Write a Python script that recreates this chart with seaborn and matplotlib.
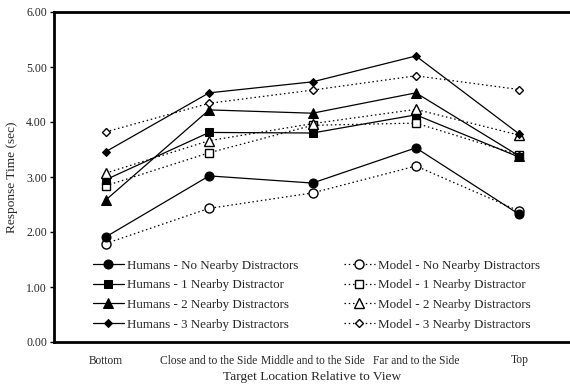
import matplotlib
matplotlib.use("Agg")
import matplotlib.pyplot as plt
import seaborn as sns
import numpy as np

categories = ["Bottom", "Close and to the Side", "Middle and to the Side",
              "Far and to the Side", "Top"]

humans_0 = [1.91, 3.02, 2.89, 3.53, 2.32]
humans_1 = [2.95, 3.81, 3.80, 4.13, 3.36]
humans_2 = [2.58, 4.22, 4.16, 4.53, 3.38]
humans_3 = [3.46, 4.53, 4.73, 5.20, 3.78]
model_0 = [1.79, 2.43, 2.71, 3.20, 2.38]
model_1 = [2.84, 3.44, 3.94, 3.98, 3.40]
model_2 = [3.07, 3.66, 3.97, 4.23, 3.76]
model_3 = [3.82, 4.34, 4.58, 4.84, 4.59]

labels_h = ["Humans - No Nearby Distractors", "Humans - 1 Nearby Distractor",
            "Humans - 2 Nearby Distractors", "Humans - 3 Nearby Distractors"]
labels_m = ["Model - No Nearby Distractors", "Model - 1 Nearby Distractor",
            "Model - 2 Nearby Distractors", "Model - 3 Nearby Distractors"]
yticks = [0, 1, 2, 3, 4, 5, 6]

sns.set_style("white")
plt.rcParams['font.family'] = ['Liberation Serif', 'DejaVu Serif']

fig = plt.figure(figsize=(5.7, 3.86), dpi=100)
ax = fig.add_axes([54/570, 1 - 342/386, 517/570, 330/386])

markers = ["o", "s", "^", "D"]
msizes = [6.5, 6, 6.5, 4.5]
for i, (h, m) in enumerate(zip([humans_0, humans_1, humans_2, humans_3],
                               [model_0, model_1, model_2, model_3])):
    sns.lineplot(x=categories, y=m, ax=ax, sort=False, color="black",
                 linestyle=(0, (1.2, 2.2)), linewidth=0.9, marker=markers[i],
                 markersize=msizes[i], markerfacecolor="white",
                 markeredgecolor="black", markeredgewidth=1.0, label=labels_m[i])
    sns.lineplot(x=categories, y=h, ax=ax, sort=False, color="black",
                 linestyle="-", linewidth=0.9, marker=markers[i],
                 markersize=msizes[i], markerfacecolor="black",
                 markeredgecolor="black", label=labels_h[i])

ax.set_xlim(-0.5, 4.5)
ax.set_ylim(0, 6)
ax.set_yticks(yticks)
ax.set_yticklabels([f"{v:.2f}" for v in yticks], fontsize=8.5)
ax.set_xticks(range(len(categories)))
ax.set_xticklabels(categories, fontsize=8.3)
ax.tick_params(axis="x", which="major", length=0, pad=9)
ax.set_xticks(np.arange(-0.5, 4.6, 1.0), minor=True)
ax.tick_params(axis="x", which="minor", direction="out", length=3, width=1, color="black")
ax.tick_params(axis="y", which="major", direction="out", length=3, width=1,
               color="black", left=True, pad=2)

for s in ["left", "bottom", "top"]:
    ax.spines[s].set_linewidth(2)
    ax.spines[s].set_color("black")
ax.spines["right"].set_visible(False)

ax.set_ylabel("Response Time (sec)", fontsize=9.6, labelpad=6)
ax.set_xlabel("Target Location Relative to View", fontsize=9.6, labelpad=3)

handles, labs = ax.get_legend_handles_labels()
order_h = [labs.index(l) for l in labels_h]
order_m = [labs.index(l) for l in labels_m]
ax.legend([handles[k] for k in order_h + order_m], labels_h + labels_m,
          ncol=2, loc="upper left", bbox_to_anchor=(0.075, 0.25),
          frameon=False, fontsize=9.4, handlelength=2.4, handletextpad=0.2,
          columnspacing=3.5, labelspacing=0.58, borderaxespad=0, borderpad=0)

fig.savefig("out.png", dpi=100)
